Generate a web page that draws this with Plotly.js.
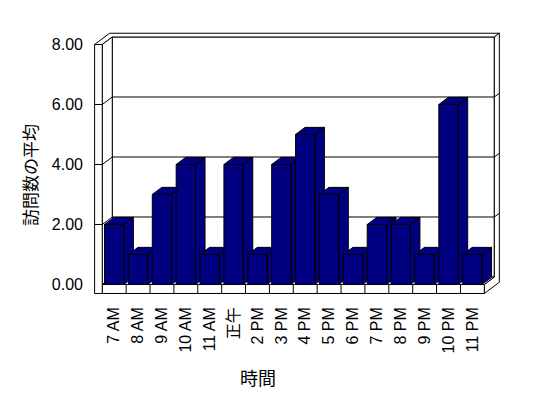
<!DOCTYPE html>
<html>
<head>
<meta charset="utf-8">
<script src="https://cdn.plot.ly/plotly-3.0.1.min.js"></script>
<style>html,body{margin:0;padding:0;background:#fff;}#chart{width:548px;height:398px;}</style>
</head>
<body>
<div id="chart"></div>
<script>
// ---- data ----
const categories = ['7 AM','8 AM','9 AM','10 AM','11 AM','正午','2 PM','3 PM','4 PM','5 PM','6 PM','7 PM','8 PM','9 PM','10 PM','11 PM'];
const visits = [2,1,3,4,1,4,1,4,5,3,1,2,2,1,6,1];
const yTicks = [0,2,4,6,8];
const xTitle = '時間';
const yTitle = '訪問数の平均';

// ---- 3D projection helpers (oblique view) ----
const DX = 0.419, DY = 0.25;   // shift of one unit of depth, in axis units
const HW = 0.405, BD = 0.95;   // bar half width, bar depth
function P(x, y, z) { return [x + z * DX, y + z * DY]; }

// bars: front, top and side faces, one trace per bar (drawn left to right)
const traces = visits.map((v, i) => {
  const xl = i - HW, xr = i + HW;
  const faces = [
    [[xl,0,0],[xr,0,0],[xr,v,0],[xl,v,0]],
    [[xl,v,0],[xr,v,0],[xr,v,BD],[xl,v,BD]],
    [[xr,0,0],[xr,0,BD],[xr,v,BD],[xr,v,0]]
  ];
  const xs = [], ys = [];
  faces.forEach((f, k) => {
    if (k) { xs.push(null); ys.push(null); }
    f.concat([f[0]]).forEach(p => { const q = P(p[0], p[1], p[2]); xs.push(q[0]); ys.push(q[1]); });
  });
  return {type:'scatter', mode:'lines', x:xs, y:ys, fill:'toself', fillcolor:'#000080',
          line:{color:'#000000', width:1}, hoverinfo:'skip', showlegend:false, name:categories[i]};
});

// ---- frame (walls and floor) ----
const n = categories.length;
const XL0 = -0.82, XL1 = -0.5, XR = n - 0.5, YB = -0.3, YT = yTicks[yTicks.length-1], ZI = 1, ZO = 1.5;
function path(pts, close) {
  return pts.map((p, k) => { const q = P(p[0], p[1], p[2]); return (k ? 'L' : 'M') + q[0].toFixed(4) + ',' + q[1].toFixed(4); }).join(' ') + (close ? ' Z' : '');
}
const shapes = [];
function face(pts) { shapes.push({type:'path', xref:'x', yref:'y', layer:'below', path:path(pts, true), fillcolor:'#ffffff', line:{color:'#000000', width:1}}); }
function seg(a, b) { shapes.push({type:'path', xref:'x', yref:'y', layer:'below', path:path([a, b], false), line:{color:'#000000', width:1}}); }

face([[XL1,0,ZI],[XR,0,ZI],[XR,YT,ZI],[XL1,YT,ZI]]);                               // back wall
face([[XL0,YT,0],[XL1,YT,0],[XL1,YT,ZI],[XR,YT,ZI],[XR,YT,ZO],[XL0,YT,ZO]]);       // top edge
face([[XR,YB,0],[XR,0,0],[XR,0,ZI],[XR,YT,ZI],[XR,YT,ZO],[XR,YB,ZO]]);             // right end
face([[XL1,0,0],[XL1,YT,0],[XL1,YT,ZI],[XL1,0,ZI]]);                               // left wall inner
face([[XL1,0,0],[XR,0,0],[XR,0,ZI],[XL1,0,ZI]]);                                   // floor top
face([[XL1,YB,0],[XR,YB,0],[XR,0,0],[XL1,0,0]]);                                   // floor front
face([[XL0,YB,0],[XL1,YB,0],[XL1,YT,0],[XL0,YT,0]]);                               // left wall front
yTicks.forEach(t => {
  if (t <= 0 || t >= YT) return;
  seg([XL1,t,ZI],[XR,t,ZI]);
  seg([XL1,t,0],[XL1,t,ZI]);
  seg([XL0,t,0],[XL1,t,0]);
  seg([XR,t,ZI],[XR,t,ZO]);
});
for (let i = 0; i < n - 1; i++) seg([i + 0.5, YB, 0],[i + 0.5, 0, 0]);

const FONT = 'Liberation Sans, Arial, Noto Sans CJK JP, sans-serif';
const layout = {
  width:548, height:398,
  margin:{l:94, r:46, t:30, b:98, autoexpand:false},
  paper_bgcolor:'#ffffff', plot_bgcolor:'rgba(0,0,0,0)',
  showlegend:false,
  font:{family:FONT, size:16, color:'#000000'},
  xaxis:{range:[-0.846, 16.24], tickvals:categories.map((c, i) => i), ticktext:categories, tickangle:-90,
         showgrid:false, zeroline:false, showline:false, ticks:'', ticklabelstandoff:3,
         tickfont:{family:FONT, size:16, color:'#000000'}, fixedrange:true},
  yaxis:{range:[-0.517, 8.483], tickvals:yTicks, tickformat:'.2f',
         showgrid:false, zeroline:false, showline:false, ticks:'', ticklabelstandoff:10,
         tickfont:{family:FONT, size:16, color:'#000000'}, fixedrange:true},
  shapes:shapes,
  annotations:[
    {text:xTitle, xref:'paper', yref:'paper', x:(258-94)/408, y:(300-377)/270, xanchor:'center', yanchor:'middle',
     showarrow:false, font:{family:'Noto Sans CJK JP, sans-serif', size:18, color:'#000000'}},
    {text:yTitle, xref:'paper', yref:'paper', x:(30-94)/408, y:(300-175)/270, xanchor:'center', yanchor:'middle',
     textangle:-90, showarrow:false, font:{family:'Noto Sans CJK JP, sans-serif', size:17, color:'#000000'}}
  ]
};
Plotly.newPlot('chart', traces, layout, {staticPlot:true, displayModeBar:false});
</script>
</body>
</html>
